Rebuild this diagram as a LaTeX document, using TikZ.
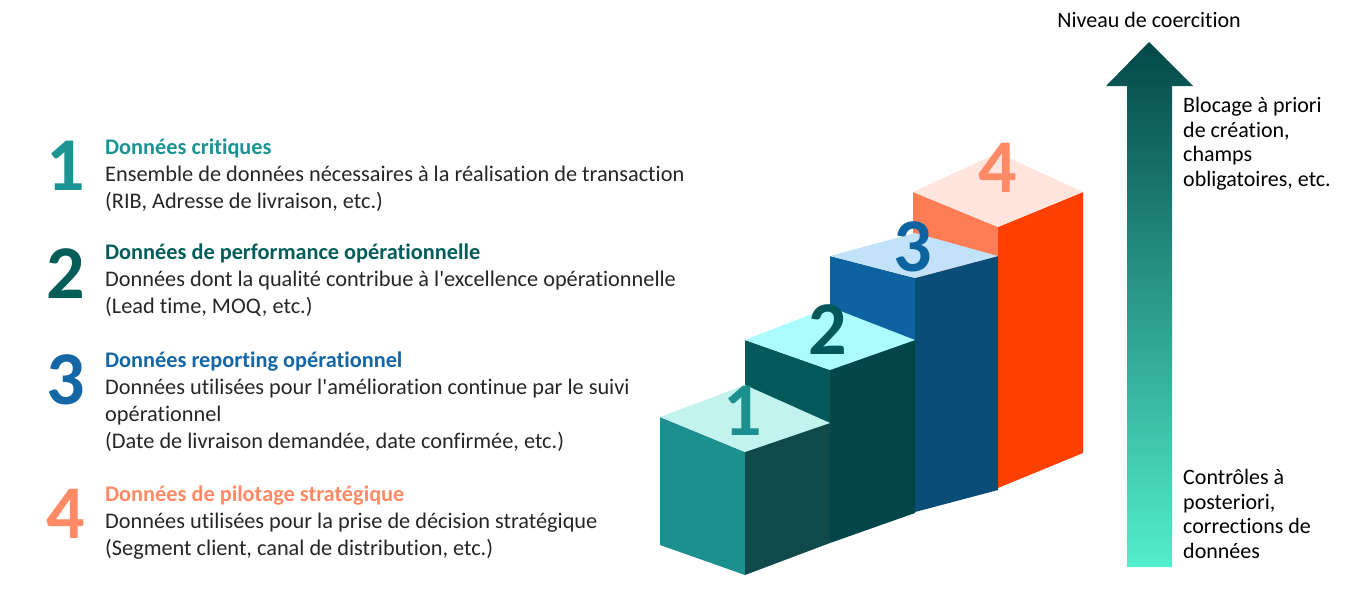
\documentclass[tikz,border=0pt]{standalone}
\usepackage{fontspec}
\setmainfont{Carlito}[Ligatures={TeX,NoCommon}]
\usetikzlibrary{positioning}

% Colours
\definecolor{numA}{HTML}{1C9494}
\definecolor{numB}{HTML}{045D59}
\definecolor{numC}{HTML}{1466A4}
\definecolor{numD}{HTML}{FF8A65}
\definecolor{textgray}{HTML}{262626}
\definecolor{topA}{HTML}{C3F3EF}
\definecolor{leftA}{HTML}{1C8F8F}
\definecolor{rightA}{HTML}{10494A}
\definecolor{topB}{HTML}{AAFCFD}
\definecolor{leftB}{HTML}{03595A}
\definecolor{rightB}{HTML}{02464A}
\definecolor{topC}{HTML}{C1E2F8}
\definecolor{leftC}{HTML}{0D63A0}
\definecolor{rightC}{HTML}{0A4D78}
\definecolor{topD}{HTML}{FFE5DD}
\definecolor{leftD}{HTML}{FF7C55}
\definecolor{rightD}{HTML}{FF4000}
\definecolor{arrowtop}{HTML}{034848}
\definecolor{arrowmid}{HTML}{0E7C77}
\definecolor{arrowbot}{HTML}{52EECB}

\begin{document}
\begin{tikzpicture}[x=1pt,y=-1pt,
  bignum/.style={font=\fontsize{76}{76}\selectfont\bfseries, anchor=base, inner sep=0pt},
  itemtext/.style={font=\fontsize{22.3}{27}\selectfont, text=textgray, align=left, anchor=base west, inner sep=0pt},
  sidetext/.style={font=\fontsize{22}{24.5}\selectfont, align=left, anchor=base west, inner sep=0pt}]

\useasboundingbox (0,0) rectangle (1355,606);

% Left column: numbers
\node[bignum, text=numA] (num1) at (66,190) {1};
\node[bignum, text=numB] (num2) at (66,298) {2};
\node[bignum, text=numC] (num3) at (66,404) {3};
\node[bignum, text=numD] (num4) at (66,538) {4};

% Left column: titles and descriptions (placed at last baseline)
\node[itemtext] (item1) at (105,208) {{\bfseries\color{numA}Données critiques}\\
  Ensemble de données nécessaires à la réalisation de transaction\\
  (RIB, Adresse de livraison, etc.)};
\node[itemtext] (item2) at (105,313) {{\bfseries\color{numB}Données de performance opérationnelle}\\
  Données dont la qualité contribue à l\textquotesingle excellence opérationnelle\\
  (Lead time, MOQ, etc.)};
\node[itemtext] (item3) at (105,448) {{\bfseries\color{numC}Données reporting opérationnel}\\
  Données utilisées pour l\textquotesingle amélioration continue par le suivi\\
  opérationnel\\
  (Date de livraison demandée, date confirmée, etc.)};
\node[itemtext] (item4) at (105,555) {{\bfseries\color{numD}Données de pilotage stratégique}\\
  Données utilisées pour la prise de décision stratégique\\
  (Segment client, canal de distribution, etc.)};

% Define stair vertices (top: left, front, right, back; then bottoms)
\coordinate (L1) at (660,417); \coordinate (F1) at (745,452);
\coordinate (R1) at (830,423); \coordinate (B1) at (745,385);
\coordinate (L1b) at (660,545); \coordinate (F1b) at (745,575); \coordinate (R1b) at (830,543);

\coordinate (L2) at (745,340); \coordinate (F2) at (830,370);
\coordinate (R2) at (915,340); \coordinate (B2) at (830,307);
\coordinate (L2b) at (745,513); \coordinate (F2b) at (830,543); \coordinate (R2b) at (915,513);

\coordinate (L3) at (830,256); \coordinate (F3) at (915,278);
\coordinate (R3) at (998,256); \coordinate (B3) at (915,233);
\coordinate (L3b) at (830,530); \coordinate (F3b) at (915,512); \coordinate (R3b) at (998,490);

\coordinate (L4) at (913,192); \coordinate (F4) at (998,227);
\coordinate (R4) at (1083,192); \coordinate (B4) at (998,153);
\coordinate (L4b) at (913,498); \coordinate (F4b) at (998,488); \coordinate (R4b) at (1083,453);

% Step 4 (back)
\fill[leftD] (L4) -- (F4) -- (F4b) -- (L4b) -- cycle;
\fill[rightD] (F4) -- (R4) -- (R4b) -- (F4b) -- cycle;
\fill[topD] (L4) -- (F4) -- (R4) -- (B4) -- cycle;

% Step 3
\fill[leftC] (L3) -- (F3) -- (F3b) -- (L3b) -- cycle;
\fill[rightC] (F3) -- (R3) -- (R3b) -- (F3b) -- cycle;
\fill[topC] (L3) -- (F3) -- (R3) -- (B3) -- cycle;

% Step 2
\fill[leftB] (L2) -- (F2) -- (F2b) -- (L2b) -- cycle;
\fill[rightB] (F2) -- (R2) -- (R2b) -- (F2b) -- cycle;
\fill[topB] (L2) -- (F2) -- (R2) -- (B2) -- cycle;

% Step 1 (front)
\fill[leftA] (L1) -- (F1) -- (F1b) -- (L1b) -- cycle;
\fill[rightA] (F1) -- (R1) -- (R1b) -- (F1b) -- cycle;
\fill[topA] (L1) -- (F1) -- (R1) -- (B1) -- cycle;

% Step numbers
\node[bignum, text=leftA] (step1) at (743,435) {1};
\node[bignum, text=leftB] (step2) at (828,354) {2};
\node[bignum, text=leftC] (step3) at (913,271) {3};
\node[bignum, text=numD] (step4) at (998,192) {4};

% Coercion arrow
\shade[top color=arrowtop, middle color=arrowmid, bottom color=arrowbot]
  (1127,567) -- (1127,86) -- (1106,86) -- (1149,42) -- (1193,86)
  -- (1172,86) -- (1172,567) -- cycle;

% Arrow labels (placed at last baseline)
\node[sidetext, anchor=base] (level) at (1149,27) {Niveau de coercition};
\node[sidetext] (strict) at (1183,186) {Blocage à priori\\de création,\\champs\\obligatoires, etc.};
\node[sidetext] (loose) at (1183,558) {Contrôles à\\posteriori,\\corrections de\\données};

\end{tikzpicture}
\end{document}
